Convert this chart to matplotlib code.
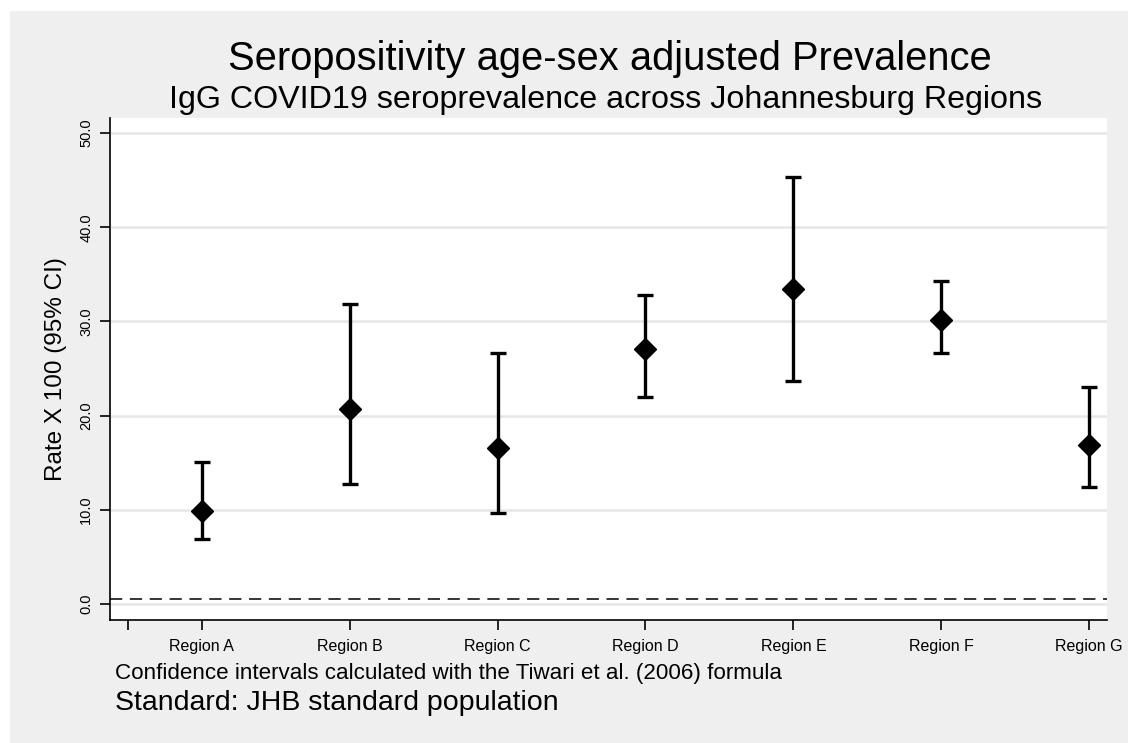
import matplotlib
matplotlib.use("Agg")
import matplotlib.pyplot as plt
from matplotlib.patches import Rectangle

# values
regions = ["Region A", "Region B", "Region C", "Region D", "Region E", "Region F", "Region G"]
rate = [9.9, 20.7, 16.6, 27.1, 33.4, 30.2, 16.9]
lower = [6.9, 12.7, 9.7, 22.0, 23.7, 26.6, 12.4]
upper = [15.1, 31.8, 26.6, 32.8, 45.3, 34.3, 23.0]
y_ticks = [0, 10, 20, 30, 40, 50]
ref_line = 0.5

plt.rcParams['font.family'] = ['Liberation Sans', 'DejaVu Sans']

bg = '#efefef'
fig = plt.figure(figsize=(11.28, 7.43), dpi=100)
fig.patch.set_facecolor('white')
fig.patches.append(Rectangle((10 / 1128, 0), 1, 1 - 11 / 743, transform=fig.transFigure,
                             facecolor=bg, edgecolor='none', zorder=-10))

ax = fig.add_axes([110 / 1128, 123 / 743, 997 / 1128, 502 / 743])
ax.set_facecolor('white')

x = list(range(1, len(regions) + 1))
yerr = [[r - l for r, l in zip(rate, lower)], [u - r for u, r in zip(upper, rate)]]
ax.errorbar(x, rate, yerr=yerr, fmt='D', color='black', ms=11, elinewidth=2.4,
            capsize=6, capthick=2.4, zorder=3)

ax.axhline(ref_line, color='black', lw=1.1, ls=(0, (8, 5)), zorder=2)

ax.set_ylim(-1.7, 51.6)
ax.set_xlim(0.38, 7.12)
ax.set_yticks(y_ticks)
ax.set_yticklabels([f"{v:.1f}" for v in y_ticks], rotation=90, va='center', fontsize=10.5)
ax.set_xticks([0.5] + x)
ax.set_xticklabels([''] + regions, fontsize=11.5)
ax.tick_params(axis='both', direction='out', length=7, width=1.2, color='black', pad=5)
ax.tick_params(axis='x', pad=7)

ax.grid(axis='y', color='#e6e6e6', lw=1.8, zorder=0)
ax.set_axisbelow(True)
for s in ['top', 'right']:
    ax.spines[s].set_visible(False)
for s in ['left', 'bottom']:
    ax.spines[s].set_linewidth(1.2)

ax.set_ylabel("Rate X 100 (95% CI)", fontsize=17.5, labelpad=9)

fig.text(0.541, 0.921, "Seropositivity age-sex adjusted Prevalence", ha='center', va='center', fontsize=28.7)
fig.text(0.537, 0.865, "IgG COVID19 seroprevalence across Johannesburg Regions", ha='center', va='center', fontsize=23.2)
fig.text(115 / 1128, 1 - 673 / 743, "Confidence intervals calculated with the Tiwari et al. (2006) formula",
         ha='left', va='center', fontsize=16.1)
fig.text(115 / 1128, 1 - 703 / 743, "Standard: JHB standard population", ha='left', va='center', fontsize=20.5)

fig.savefig("out.png", dpi=100, facecolor=fig.get_facecolor())
